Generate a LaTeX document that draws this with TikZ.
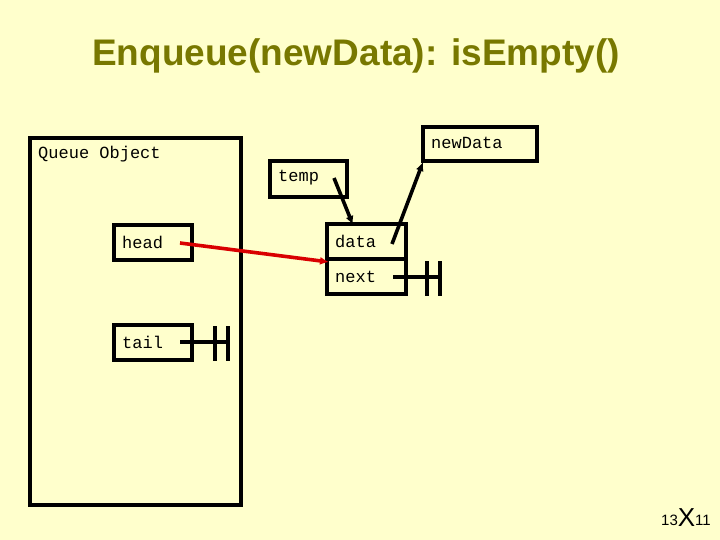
\documentclass[tikz,border=0pt]{standalone}
\usepackage{fontspec}
\setmainfont{Liberation Sans}
\setmonofont{Liberation Mono}
\usetikzlibrary{positioning,arrows.meta}
\definecolor{bgyellow}{HTML}{FFFFCC}
\definecolor{titleolive}{HTML}{787800}
\tikzset{
  box/.style={draw, line width=3.6pt},
  lbl/.style={font=\ttfamily\fontsize{17}{17}\selectfont, anchor=west, inner sep=0pt},
  ptr/.style={line width=3.6pt, -{Latex[length=9pt,width=8pt]}},
  gnd/.style={line width=3.6pt}
}
\begin{document}
\begin{tikzpicture}[x=1pt, y=-1pt]
  \fill[bgyellow] (0,0) rectangle (720,540);
  \useasboundingbox (0,0) rectangle (720,540);
  \node[text=titleolive, font=\bfseries\fontsize{37}{37}\selectfont] (title) at (356,56) {Enqueue(newData): isEmpty()};

  % queue object
  \draw[box] (30,138) rectangle (241,505);
  \node[lbl] (qo) at (38,154) {Queue Object};
  \draw[box] (114,225) rectangle (192,260);
  \node[lbl] (head) at (122,242) {head};
  \draw[box] (114,325) rectangle (192,360);
  \node[lbl] (tail) at (122,342) {tail};
  \coordinate (headp) at (180,243);
  \coordinate (tailp) at (180,342);

  % new node
  \draw[box] (270,161) rectangle (347,197);
  \node[lbl] (temp) at (278,178) {temp};
  \draw[box] (423,127) rectangle (537,161);
  \node[lbl] (newdata) at (431,143) {newData};
  \draw[box] (327,224) rectangle (406,259);
  \draw[box] (327,259) rectangle (406,294);
  \node[lbl] (data) at (335,241) {data};
  \node[lbl] (next) at (335,277) {next};
  \coordinate (tempp) at (334,178);
  \coordinate (datap) at (392,244);
  \coordinate (nextp) at (393,277);
  \coordinate (datatop) at (353,225);
  \coordinate (ndbot) at (423,162);
  \coordinate (nodeleft) at (329,262);

  % pointers
  \draw[ptr] (tempp) -- (datatop);
  \draw[ptr] (datap) -- (ndbot);
  \draw[ptr, red!85!black] (headp) -- (nodeleft);

  % null pointers
  \draw[gnd] (nextp) -- (440,277);
  \draw[gnd] (427,261) -- (427,296) (440,261) -- (440,296);
  \draw[gnd] (tailp) -- (228,342);
  \draw[gnd] (215,326) -- (215,361) (228,326) -- (228,361);

  \node[font=\fontsize{15}{15}\selectfont, inner sep=0pt] (pg) at (686,518)
    {13\raisebox{-1pt}{\fontsize{26}{26}\selectfont X}11};
\end{tikzpicture}
\end{document}
